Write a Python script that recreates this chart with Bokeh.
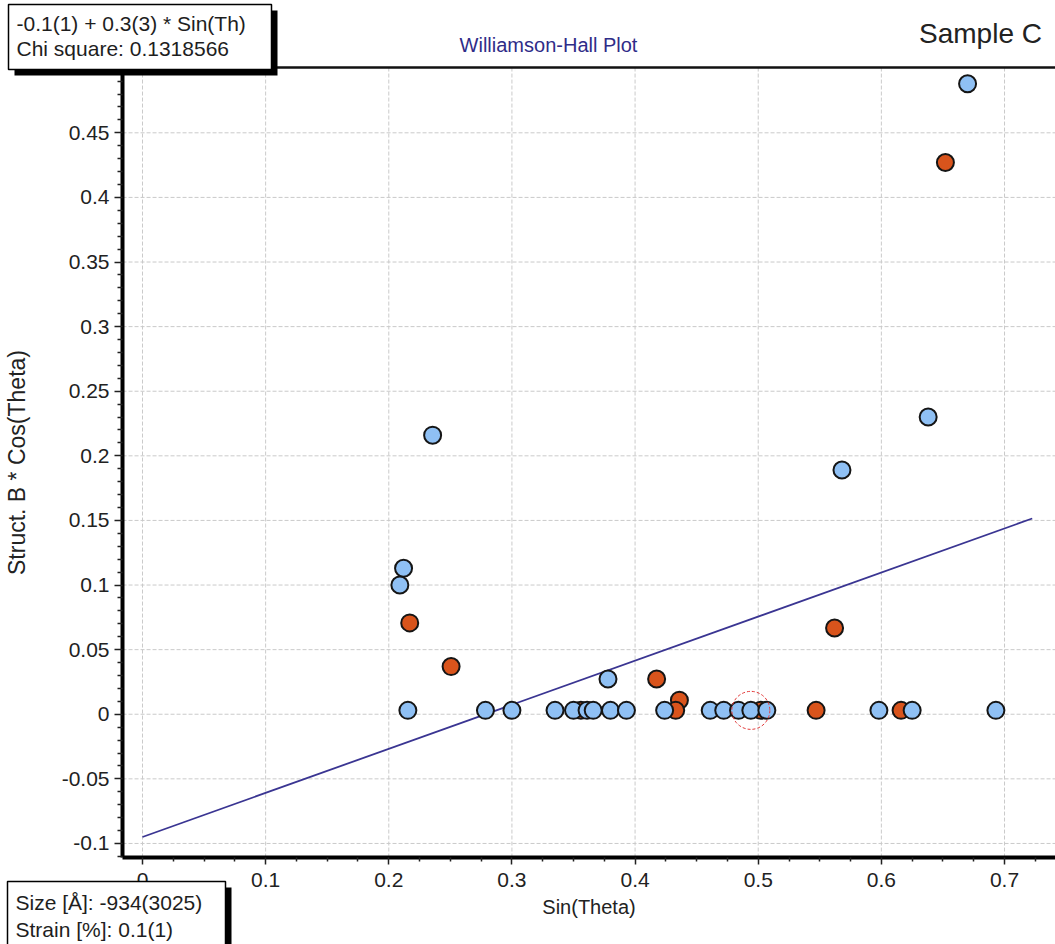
from bokeh.plotting import figure
from bokeh.models import Range1d, FixedTicker, LinearAxis, Label, BoxAnnotation
from bokeh.embed import file_html
from bokeh.resources import INLINE

# ---- data ----
blue_x = [0.670, 0.638, 0.568, 0.2356, 0.212, 0.209, 0.2155, 0.2785, 0.300, 0.335,
          0.350, 0.361, 0.366, 0.380, 0.393, 0.378, 0.424, 0.461, 0.472, 0.484,
          0.494, 0.507, 0.598, 0.625, 0.693]
blue_y = [0.488, 0.230, 0.189, 0.216, 0.113, 0.100, 0.003, 0.003, 0.003, 0.003,
          0.003, 0.003, 0.003, 0.003, 0.003, 0.0273, 0.003, 0.003, 0.003, 0.003,
          0.003, 0.003, 0.003, 0.003, 0.003]
orange_x = [0.652, 0.562, 0.217, 0.2506, 0.356, 0.4175, 0.436, 0.433, 0.502, 0.547, 0.616]
orange_y = [0.427, 0.0668, 0.0707, 0.0369, 0.003, 0.0273, 0.0109, 0.003, 0.003, 0.003, 0.003]
fit_x = [0.0, 0.7225]
fit_y = [-0.095, 0.1515]
selected_index = 20  # blue point marked with the red dashed circle

x_ticks = [0.0, 0.1, 0.2, 0.3, 0.4, 0.5, 0.6, 0.7]
x_tick_labels = ["0", "0.1", "0.2", "0.3", "0.4", "0.5", "0.6", "0.7"]
y_ticks = [-0.1, -0.05, 0.0, 0.05, 0.1, 0.15, 0.2, 0.25, 0.3, 0.35, 0.4, 0.45]
y_tick_labels = ["-0.1", "-0.05", "0", "0.05", "0.1", "0.15", "0.2", "0.25",
                 "0.3", "0.35", "0.4", "0.45"]
x_minor = [0.025, 0.05, 0.075, 0.125, 0.15, 0.175, 0.225, 0.25, 0.275, 0.325, 0.35,
           0.375, 0.425, 0.45, 0.475, 0.525, 0.55, 0.575, 0.625, 0.65, 0.675, 0.725]
y_minor = [-0.11, -0.09, -0.08, -0.07, -0.06, -0.04, -0.03, -0.02, -0.01, 0.01, 0.02,
           0.03, 0.04, 0.06, 0.07, 0.08, 0.09, 0.11, 0.12, 0.13, 0.14, 0.16, 0.17,
           0.18, 0.19, 0.21, 0.22, 0.23, 0.24, 0.26, 0.27, 0.28, 0.29, 0.31, 0.32,
           0.33, 0.34, 0.36, 0.37, 0.38, 0.39, 0.41, 0.42, 0.43, 0.44, 0.46, 0.47,
           0.48, 0.49]

# plot-area extent (data units) and canvas extent
x_lo, x_hi = -0.0162, 0.7414
y_lo, y_hi = -0.1109, 0.5005
cx_lo, cx_hi = -0.1153, 0.7414
cy_lo, cy_hi = -0.1782, 0.5524

title_text = "Williamson-Hall Plot"
sample_text = "Sample C"
fit_lines = ["-0.1(1) + 0.3(3) * Sin(Th)", "Chi square: 0.1318566"]
size_lines = ["Size [Å]: -934(3025)", "Strain  [%]: 0.1(1)"]
x_label = "Sin(Theta)"
y_label = "Struct. B * Cos(Theta)"

FONT = "Liberation Sans"
W, H = 1055, 944

p = figure(width=W, height=H, output_backend="svg", toolbar_location=None,
           x_range=Range1d(cx_lo, cx_hi), y_range=Range1d(cy_lo, cy_hi),
           min_border=0, x_axis_type=None, y_axis_type=None)
p.outline_line_color = None
p.background_fill_color = "white"
p.border_fill_color = "white"
p.xgrid.visible = False
p.ygrid.visible = False

xaxis = LinearAxis(ticker=FixedTicker(ticks=x_ticks, minor_ticks=x_minor),
                   major_label_overrides=dict(zip(x_ticks, x_tick_labels)),
                   axis_label=x_label, fixed_location=y_lo, bounds=(x_lo, x_hi))
yaxis = LinearAxis(ticker=FixedTicker(ticks=y_ticks, minor_ticks=y_minor),
                   major_label_overrides=dict(zip(y_ticks, y_tick_labels)),
                   axis_label=y_label, fixed_location=x_lo, bounds=(y_lo, y_hi))
for ax in (xaxis, yaxis):
    ax.axis_line_width = 4
    ax.axis_line_color = "black"
    ax.major_tick_line_color = "#222222"
    ax.major_tick_line_width = 1.5
    ax.minor_tick_line_color = "#222222"
    ax.minor_tick_line_width = 1.5
    ax.major_tick_in = 0
    ax.minor_tick_in = 0
    ax.major_label_text_font = FONT
    ax.major_label_text_color = "#222222"
    ax.axis_label_text_font = FONT
    ax.axis_label_text_font_style = "normal"
    ax.axis_label_text_color = "#222222"
xaxis.major_label_text_font_size = "21px"
yaxis.major_label_text_font_size = "21px"
xaxis.axis_label_text_font_size = "20px"
yaxis.axis_label_text_font_size = "23px"
xaxis.major_tick_out = 7
xaxis.minor_tick_out = 4
xaxis.major_label_standoff = 8
xaxis.axis_label_standoff = 6
yaxis.major_tick_out = 8
yaxis.minor_tick_out = 5
yaxis.major_label_standoff = 5
yaxis.axis_label_standoff = 29
p.add_layout(xaxis, "below")
p.add_layout(yaxis, "left")

top = LinearAxis(ticker=FixedTicker(ticks=[]), major_label_text_font_size="0px",
                 major_tick_line_color=None, minor_tick_line_color=None,
                 axis_line_width=2.5, axis_line_color="#111111",
                 fixed_location=y_hi, bounds=(x_lo, x_hi))
p.add_layout(top, "above")

# grid lines limited to the plot area
p.segment(x0=x_ticks, y0=[y_lo] * len(x_ticks), x1=x_ticks, y1=[y_hi] * len(x_ticks),
          line_color="#cacaca", line_dash="4 2", line_width=1)
p.segment(x0=[x_lo] * len(y_ticks), y0=y_ticks, x1=[x_hi] * len(y_ticks), y1=y_ticks,
          line_color="#cacaca", line_dash="4 2", line_width=1)

p.line(fit_x, fit_y, line_color="#3a3592", line_width=1.8)
p.scatter(orange_x, orange_y, size=17, fill_color="#d9541c", line_color="#151515", line_width=2)
p.scatter(blue_x, blue_y, size=17, fill_color="#8fc0f4", line_color="#151515", line_width=2)
p.scatter([blue_x[selected_index]], [blue_y[selected_index]], size=38, fill_color=None,
          line_color="#e33a3a", line_width=1, line_dash="3 2")


def sy(cy):
    return H - cy


def box(l, t, r, b, fill, lw):
    p.add_layout(BoxAnnotation(left=l, right=r, top=sy(t), bottom=sy(b),
                               left_units="screen", right_units="screen",
                               top_units="screen", bottom_units="screen",
                               fill_color=fill, fill_alpha=1.0, line_color="black",
                               line_width=lw, line_alpha=1.0 if lw else 0.0))


# fit box with shadow
box(14, 10, 277, 75, "black", 0)
box(8, 4, 271, 69, "white", 1.5)
# size/strain box with shadow
box(13, 887, 231, 960, "black", 0)
box(7, 881, 225, 960, "white", 1.5)


def label(text, cx, cy, size, color="#1e1e1e", align="left"):
    p.add_layout(Label(x=cx, y=sy(cy), x_units="screen", y_units="screen",
                       text=text, text_font=FONT, text_font_size=size,
                       text_color=color, text_align=align, text_baseline="middle"))


label(fit_lines[0], 16, 23, "21px")
label(fit_lines[1], 16, 48, "21px")
label(size_lines[0], 15, 902, "21px")
label(size_lines[1], 15, 929, "21px")
label(title_text, 548, 44, "20px", color="#2f2c88", align="center")
label(sample_text, 980, 33, "28px", color="#222222", align="center")

open("out.html", "w").write(file_html(p, INLINE))
